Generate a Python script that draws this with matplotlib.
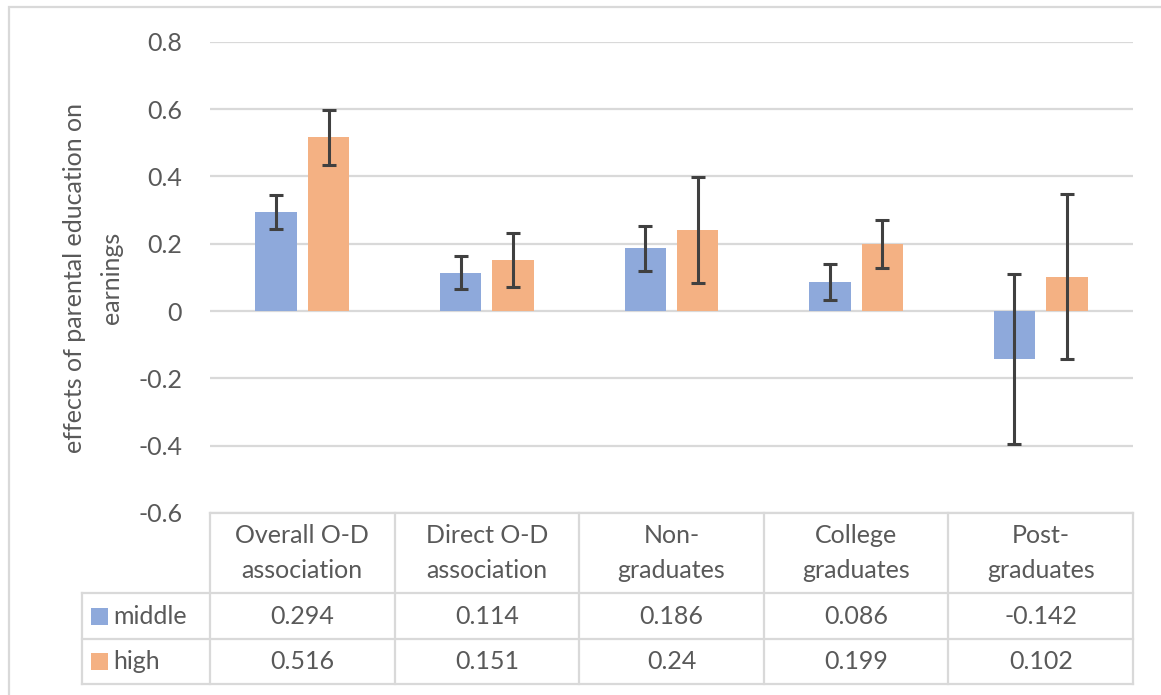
import matplotlib
matplotlib.use("Agg")
import matplotlib.pyplot as plt
from matplotlib.transforms import blended_transform_factory
from matplotlib.patches import Rectangle
from matplotlib.lines import Line2D

categories = ["Overall O-D\nassociation", "Direct O-D\nassociation", "Non-\ngraduates",
              "College\ngraduates", "Post-\ngraduates"]
middle = [0.294, 0.114, 0.186, 0.086, -0.142]
high = [0.516, 0.151, 0.24, 0.199, 0.102]
middle_err = [0.05, 0.05, 0.068, 0.054, 0.253]
high_err = [0.082, 0.08, 0.157, 0.072, 0.245]
middle_labels = ["0.294", "0.114", "0.186", "0.086", "-0.142"]
high_labels = ["0.516", "0.151", "0.24", "0.199", "0.102"]
yticks = [-0.6, -0.4, -0.2, 0, 0.2, 0.4, 0.6, 0.8]
ytick_labels = ["-0.6", "-0.4", "-0.2", "0", "0.2", "0.4", "0.6", "0.8"]

blue = "#8EA9DB"
orange = "#F4B183"
txt = "#595959"
grid = "#D9D9D9"
plt.rcParams["font.family"] = ["Lato", "DejaVu Sans"]
fs = 18

W, H = 1161, 695
fig = plt.figure(figsize=(W / 100, H / 100), dpi=100)


def fx(px):
    return px / W


def fy(py):
    return 1 - py / H


ax = fig.add_axes([fx(210), fy(513), fx(1133) - fx(210), fy(41.7) - fy(513)])
x = list(range(len(categories)))
w = 0.225
off = 0.142
ax.bar([i - off for i in x], middle, w, color=blue, zorder=2)
ax.bar([i + off for i in x], high, w, color=orange, zorder=2)
ax.errorbar([i - off for i in x], middle, yerr=middle_err, fmt="none", ecolor="#404040",
            elinewidth=2.2, capsize=5, capthick=2.2, zorder=3)
ax.errorbar([i + off for i in x], high, yerr=high_err, fmt="none", ecolor="#404040",
            elinewidth=2.2, capsize=5, capthick=2.2, zorder=3)

ax.set_xlim(-0.5, len(categories) - 0.5)
ax.set_ylim(-0.6, 0.8)
ax.set_yticks(yticks)
ax.set_yticklabels(ytick_labels, fontsize=fs, color=txt)
ax.tick_params(axis="y", length=0, pad=20)
ax.set_xticks([])
for s in ax.spines.values():
    s.set_visible(False)
for t in yticks:
    ax.axhline(t, color=grid, lw=1.6, zorder=1)

# y label
fig.text(fx(93), fy(278), "effects of parental education on\nearnings", rotation=90,
         ha="center", va="center", multialignment="center", fontsize=fs, color=txt,
         linespacing=1.75)

# data table under the axes
tr = blended_transform_factory(ax.transData, fig.transFigure)
rows = [513, 593, 639, 684]
lw = 1.6
fig.add_artist(Line2D([fx(210), fx(1133)], [fy(rows[0])] * 2, color=grid, lw=lw))
for r in rows[1:]:
    fig.add_artist(Line2D([fx(82), fx(1133)], [fy(r)] * 2, color=grid, lw=lw))
fig.add_artist(Line2D([fx(82), fx(82)], [fy(rows[1]), fy(rows[3])], color=grid, lw=lw))
for i in range(len(categories) + 1):
    b = i - 0.5
    fig.add_artist(Line2D([b, b], [fy(rows[0]), fy(rows[3])], color=grid, lw=lw,
                          transform=tr))
for i, c in enumerate(categories):
    fig.text(i, fy(553), c, transform=tr, ha="center", va="center", fontsize=fs,
             color=txt, linespacing=1.6)
    fig.text(i, fy(616), middle_labels[i], transform=tr, ha="center", va="center",
             fontsize=fs, color=txt)
    fig.text(i, fy(661.5), high_labels[i], transform=tr, ha="center", va="center",
             fontsize=fs, color=txt)

# legend keys in first column
for name, col, yc in [("middle", blue, 616), ("high", orange, 661.5)]:
    fig.add_artist(Rectangle((fx(91), fy(yc + 8.5)), fx(17), fy(0) - fy(17),
                             facecolor=col, edgecolor="none"))
    fig.text(fx(113), fy(yc), name, ha="left", va="center", fontsize=fs, color=txt)

# outer chart border
fig.add_artist(Rectangle((fx(9), fy(720)), fx(1180), fy(7) - fy(720), fill=False,
                         edgecolor=grid, lw=1.6))

fig.savefig("out.png", dpi=100)
